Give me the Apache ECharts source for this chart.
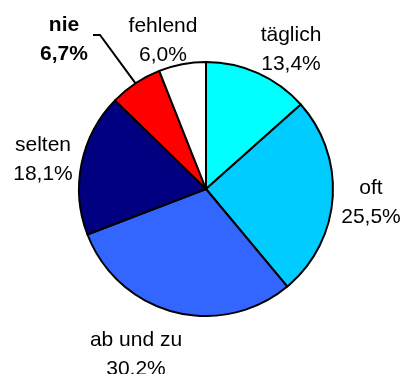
<!DOCTYPE html>
<html>
<head>
<meta charset="utf-8">
<script src="https://cdn.jsdelivr.net/npm/echarts@6/dist/echarts.min.js"></script>
<style>
  html, body { margin: 0; padding: 0; background: #fff; }
  #chart { width: 403px; height: 374px; }
</style>
</head>
<body>
<div id="chart"></div>
<script>
// Häufigkeit – Anteile in Prozent
const categories = ['täglich', 'oft', 'ab und zu', 'selten', 'nie', 'fehlend'];
const shares = [13.4, 25.5, 30.2, 18.1, 6.7, 6.0];
const colors = ['#00FFFF', '#00CCFF', '#3366FF', '#000080', '#FF0000', '#FFFFFF'];

// label anchor points (centre of each two-line label)
const labelPos = [[291, 50], [371, 203], [136, 355], [43, 160], [64, 40], [163, 41]];
const leaderIndex = 4; // "nie" gets a leader line

const fmt = v => v.toFixed(1).replace('.', ',') + '%';

const data = categories.map((name, i) => ({
  name: name,
  value: shares[i],
  itemStyle: { color: colors[i] },
  label: i === leaderIndex ? { fontWeight: 'bold' } : {},
  labelLine: { show: i === leaderIndex }
}));

const chart = echarts.init(document.getElementById('chart'), null, { renderer: 'canvas' });
chart.setOption({
  animation: false,
  series: [{
    type: 'pie',
    center: [206, 189],
    radius: 127,
    startAngle: 90,
    clockwise: true,
    avoidLabelOverlap: false,
    data: data,
    itemStyle: { borderColor: '#000', borderWidth: 2 },
    emphasis: { disabled: true },
    label: {
      show: true,
      position: 'outside',
      color: '#000',
      fontFamily: '"Liberation Sans", Arial, sans-serif',
      fontSize: 21,
      lineHeight: 29,
      align: 'center',
      formatter: p => p.name + '\n' + fmt(p.value)
    },
    labelLine: {
      show: false,
      lineStyle: { color: '#000', width: 2 }
    },
    labelLayout: function (params) {
      const i = params.dataIndex;
      const out = {
        x: labelPos[i][0],
        y: labelPos[i][1],
        align: 'center',
        verticalAlign: 'middle'
      };
      if (i === leaderIndex && params.labelLinePoints) {
        const start = params.labelLinePoints[0];
        out.labelLinePoints = [start, [100, 35], [93, 35]];
      }
      return out;
    }
  }]
});
</script>
</body>
</html>
